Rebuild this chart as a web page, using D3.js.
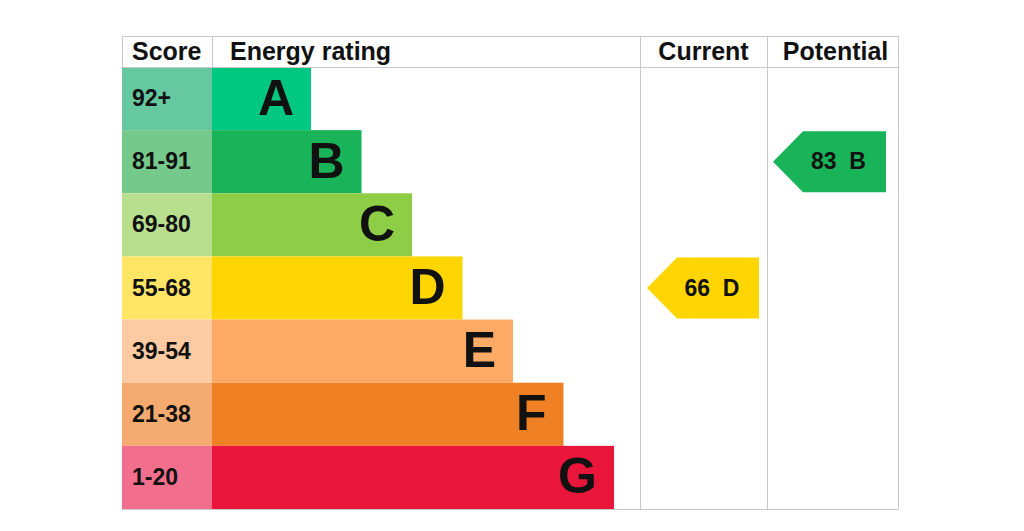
<!DOCTYPE html>
<html>
<head>
<meta charset="utf-8">
<script src="https://cdn.jsdelivr.net/npm/d3@7"></script>
<style>
  body { margin: 0; background: #fff; }
  text { font-family: "Liberation Sans", Arial, sans-serif; font-weight: bold; fill: #111; }
</style>
</head>
<body>
<svg id="chart" width="1024" height="531"></svg>
<script>
// bands, top to bottom
var letters = ['A', 'B', 'C', 'D', 'E', 'F', 'G'];
var ranges = ['92+', '81-91', '69-80', '55-68', '39-54', '21-38', '1-20'];
var minScores = [92, 81, 69, 55, 39, 21, 1];
var barColors = ['#00c781', '#19b459', '#8dce46', '#ffd500', '#fcaa65', '#ef8023', '#e9153b'];
var scoreColors = ['#66c8a1', '#75c98a', '#b8df8e', '#ffe564', '#fdcaa1', '#f5aa6f', '#f16f8d'];
var headers = ['Score', 'Energy rating', 'Current', 'Potential'];
var current = 66;
var potential = 83;

var svg = d3.select('#chart');

var tableLeft = 122, tableTop = 36, tableRight = 898, headH = 31, tableBottom = 509;
var colScore = 212, colCurrent = 640, colPotential = 767;

var y = d3.scaleBand()
    .domain(letters)
    .range([tableTop + headH, tableBottom])
    .padding(0);

var barEnd = d3.scaleLinear()
    .domain([0, letters.length - 1])
    .range([311, 614]);

function bandOf(score) {
    for (var i = 0; i < minScores.length; i++)
        if (score >= minScores[i]) return i;
    return minScores.length - 1;
}

// score cells
svg.selectAll('rect.score')
    .data(letters)
    .enter()
    .append('rect')
        .attr('class', 'score')
        .attr('x', tableLeft)
        .attr('y', function(d) { return y(d); })
        .attr('width', colScore - tableLeft)
        .attr('height', y.bandwidth())
        .attr('fill', function(d, i) { return scoreColors[i]; });

svg.selectAll('text.range')
    .data(ranges)
    .enter()
    .append('text')
        .attr('class', 'range')
        .attr('x', tableLeft + 10)
        .attr('y', function(d, i) { return y(letters[i]) + y.bandwidth() / 2 + 7.5; })
        .attr('font-size', 23)
        .text(function(d) { return d; });

// rating bars
svg.selectAll('rect.bar')
    .data(letters)
    .enter()
    .append('rect')
        .attr('class', 'bar')
        .attr('x', colScore)
        .attr('y', function(d) { return y(d); })
        .attr('width', function(d, i) { return barEnd(i) - colScore; })
        .attr('height', y.bandwidth())
        .attr('fill', function(d, i) { return barColors[i]; });

svg.selectAll('text.letter')
    .data(letters)
    .enter()
    .append('text')
        .attr('class', 'letter')
        .attr('x', function(d, i) { return barEnd(i) - 17; })
        .attr('y', function(d) { return y(d) + y.bandwidth() / 2 + 16; })
        .attr('text-anchor', 'end')
        .attr('font-size', 50)
        .text(function(d) { return d; });

// grid
var grid = svg.append('g')
    .attr('stroke', '#c8c8c8')
    .attr('stroke-width', 1)
    .attr('fill', 'none');
[tableTop, tableTop + headH, tableBottom].forEach(function(v) {
    grid.append('line').attr('x1', tableLeft).attr('x2', tableRight).attr('y1', v + 0.5).attr('y2', v + 0.5);
});
[tableLeft, colScore].forEach(function(x) {
    grid.append('line').attr('x1', x + 0.5).attr('x2', x + 0.5).attr('y1', tableTop).attr('y2', tableTop + headH);
});
[colCurrent, colPotential, tableRight].forEach(function(x) {
    grid.append('line').attr('x1', x + 0.5).attr('x2', x + 0.5).attr('y1', tableTop).attr('y2', tableBottom);
});

// headers
var headX = [tableLeft + 10, colScore + 18, (colCurrent + colPotential) / 2, (colPotential + tableRight) / 2 + 3];
var headAnchor = ['start', 'start', 'middle', 'middle'];
svg.selectAll('text.head')
    .data(headers)
    .enter()
    .append('text')
        .attr('class', 'head')
        .attr('x', function(d, i) { return headX[i]; })
        .attr('y', tableTop + headH / 2 + 8.5)
        .attr('text-anchor', function(d, i) { return headAnchor[i]; })
        .attr('font-size', 25)
        .text(function(d) { return d; });

// current / potential arrows
function drawArrow(score, x0, x1) {
    var i = bandOf(score);
    var t = y(letters[i]) + 1, b = y(letters[i]) + y.bandwidth() - 1;
    var m = (t + b) / 2, tip = 30;
    svg.append('path')
        .attr('d', 'M' + x0 + ',' + m + 'L' + (x0 + tip) + ',' + t + 'L' + x1 + ',' + t +
                   'L' + x1 + ',' + b + 'L' + (x0 + tip) + ',' + b + 'Z')
        .attr('fill', barColors[i]);
    svg.append('text')
        .attr('x', x0 + tip + (x1 - x0 - tip) / 2 - 6)
        .attr('y', m + 7.5)
        .attr('text-anchor', 'middle')
        .attr('font-size', 23)
        .style('white-space', 'pre')
        .text(score + '  ' + letters[i]);
}

drawArrow(current, 647, 759);
drawArrow(potential, 773, 886);
</script>
</body>
</html>
